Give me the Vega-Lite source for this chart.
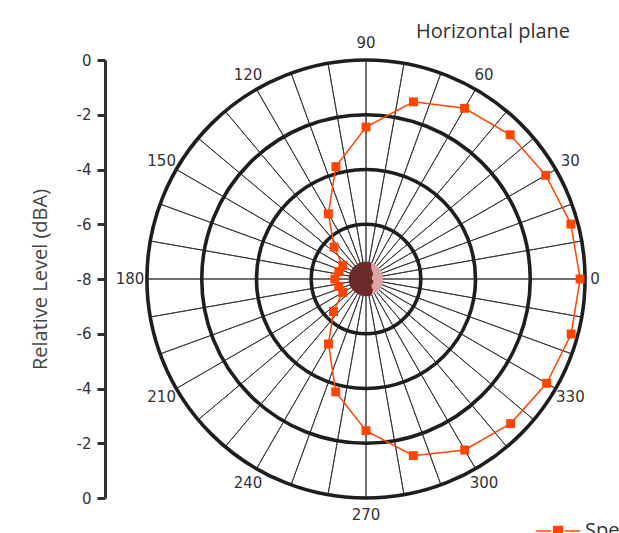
{
  "$schema": "https://vega.github.io/schema/vega-lite/v6.json",
  "width": 480,
  "height": 438,
  "autosize": {"type": "none"},
  "padding": {"left": 126, "top": 60, "right": 13, "bottom": 35},
  "background": "white",
  "config": {"view": {"stroke": null}, "font": "DejaVu Sans"},
  "title": {"text": "Horizontal plane", "font": "Open Sans", "fontSize": 20, "fontWeight": "normal", "color": "#333", "anchor": "start", "frame": "group", "dx": 290, "offset": 0, "dy": 6},
  "datasets": {
    "pattern": [
      {"angle": 0, "level": -0.18},
      {"angle": 15, "level": -0.25},
      {"angle": 30, "level": -0.42},
      {"angle": 45, "level": -0.55},
      {"angle": 60, "level": -0.8},
      {"angle": 75, "level": -1.3},
      {"angle": 90, "level": -2.45},
      {"angle": 105, "level": -3.75},
      {"angle": 120, "level": -5.25},
      {"angle": 135, "level": -6.35},
      {"angle": 150, "level": -7.02},
      {"angle": 165, "level": -6.97},
      {"angle": 180, "level": -6.86},
      {"angle": 195, "level": -6.97},
      {"angle": 210, "level": -7.02},
      {"angle": 225, "level": -6.32},
      {"angle": 240, "level": -5.26},
      {"angle": 255, "level": -3.73},
      {"angle": 270, "level": -2.46},
      {"angle": 285, "level": -1.32},
      {"angle": 300, "level": -0.79},
      {"angle": 315, "level": -0.53},
      {"angle": 330, "level": -0.38},
      {"angle": 345, "level": -0.24}
    ],
    "rings": [{"r": 2}, {"r": 4}, {"r": 6}, {"r": 8}],
    "spokes": [
      {"a": 0}, {"a": 10}, {"a": 20}, {"a": 30}, {"a": 40}, {"a": 50}, {"a": 60}, {"a": 70}, {"a": 80},
      {"a": 90}, {"a": 100}, {"a": 110}, {"a": 120}, {"a": 130}, {"a": 140}, {"a": 150}, {"a": 160}, {"a": 170},
      {"a": 180}, {"a": 190}, {"a": 200}, {"a": 210}, {"a": 220}, {"a": 230}, {"a": 240}, {"a": 250}, {"a": 260},
      {"a": 270}, {"a": 280}, {"a": 290}, {"a": 300}, {"a": 310}, {"a": 320}, {"a": 330}, {"a": 340}, {"a": 350}
    ],
    "labels": [
      {"angle": 0, "label": "0"}, {"angle": 30, "label": "30"}, {"angle": 60, "label": "60"},
      {"angle": 90, "label": "90"}, {"angle": 120, "label": "120"}, {"angle": 150, "label": "150"},
      {"angle": 180, "label": "180"}, {"angle": 210, "label": "210"}, {"angle": 240, "label": "240"},
      {"angle": 270, "label": "270"}, {"angle": 300, "label": "300"}, {"angle": 330, "label": "330"}
    ]
  },
  "layer": [
    {
      "data": {"name": "spokes"},
      "mark": {"type": "arc", "filled": false, "stroke": "#333", "strokeWidth": 0.9},
      "encoding": {
        "theta": {"aggregate": "count", "type": "quantitative"},
        "detail": {"field": "a", "type": "ordinal"},
        "radius": {"datum": 8, "type": "quantitative", "scale": {"type": "linear", "domain": [0, 8], "range": [0, 219], "zero": true}}
      }
    },
    {
      "data": {"name": "rings"},
      "mark": {"type": "arc", "filled": false, "stroke": "#1e1e1e", "strokeWidth": 3.6, "theta": 0, "theta2": 6.2832},
      "encoding": {
        "radius": {"field": "r", "type": "quantitative", "stack": false, "scale": {"type": "linear", "domain": [0, 8], "range": [0, 219], "zero": true}}
      }
    },
    {
      "data": {"name": "labels"},
      "mark": {"type": "text", "font": "DejaVu Sans", "fontSize": 15, "color": "#333", "align": "center", "baseline": "middle", "dx": {"expr": "datum.angle == 0 ? -7 : 0"}},
      "encoding": {
        "theta": {"field": "angle", "type": "quantitative", "stack": false, "scale": {"domain": [0, 360], "range": [1.5708, -4.7124]}},
        "radius": {"datum": 8.62, "type": "quantitative", "scale": {"type": "linear", "domain": [0, 8], "range": [0, 219], "zero": true}},
        "text": {"field": "label"}
      }
    },
    {
      "data": {"name": "pattern"},
      "transform": [
        {"calculate": "(datum.level + 8) * cos(datum.angle * PI / 180)", "as": "px"},
        {"calculate": "(datum.level + 8) * sin(datum.angle * PI / 180)", "as": "py"}
      ],
      "mark": {"type": "line", "interpolate": "linear-closed", "strokeWidth": 1.5},
      "encoding": {
        "x": {"field": "px", "type": "quantitative", "scale": {"domain": [-8.767, 8.767], "nice": false, "zero": false}, "axis": null},
        "y": {"field": "py", "type": "quantitative", "scale": {"domain": [-8, 8], "nice": false, "zero": false},
          "axis": {"title": "Relative Level (dBA)", "values": [-8, -6, -4, -2, 0, 2, 4, 6, 8], "labelExpr": "'' + (abs(datum.value) - 8)", "offset": 21, "grid": false,
            "domainColor": "#333", "domainWidth": 3, "tickColor": "#333", "tickWidth": 3, "tickSize": 8,
            "labelFont": "DejaVu Sans", "labelFontSize": 15, "labelColor": "#333", "labelPadding": 6,
            "titleFont": "Open Sans", "titleFontSize": 20, "titleFontWeight": "normal", "titleColor": "#444", "titlePadding": 26}},
        "order": {"field": "angle", "type": "quantitative"},
        "color": {"datum": "Speaker", "type": "nominal", "scale": {"range": ["#ff4500"]},
          "legend": {"title": null, "orient": "none", "legendX": 409, "legendY": 448, "padding": 0,
            "symbolType": "M-1,0H-0.3M0.3,0H1M-0.2,-0.2H0.2V0.2H-0.2Z", "symbolSize": 1936, "symbolStrokeWidth": 1.5,
            "symbolFillColor": "#ff4500", "symbolStrokeColor": "#ff4500",
            "labelFont": "Open Sans", "labelFontSize": 20, "labelColor": "#333", "labelOffset": 4}}
      }
    },
    {
      "data": {"name": "pattern"},
      "transform": [
        {"calculate": "(datum.level + 8) * cos(datum.angle * PI / 180)", "as": "px"},
        {"calculate": "(datum.level + 8) * sin(datum.angle * PI / 180)", "as": "py"}
      ],
      "mark": {"type": "point", "shape": "square", "filled": true, "size": 80, "opacity": 1},
      "encoding": {
        "x": {"field": "px", "type": "quantitative"},
        "y": {"field": "py", "type": "quantitative"},
        "color": {"datum": "Speaker", "type": "nominal"}
      }
    },
    {
      "data": {"values": [{"part": "face"}]},
      "mark": {"type": "point", "shape": "circle", "filled": true, "color": "#dca4a4", "size": 1156, "opacity": 1},
      "encoding": {"x": {"datum": 0, "type": "quantitative"}, "y": {"datum": 0, "type": "quantitative"}}
    },
    {
      "data": {"values": [{"part": "hair"}]},
      "mark": {"type": "point", "shape": "M0.3,-0.954A1,1 0 1,0 0.3,0.954L0.4,0.62L0.3,0.4L0.44,0.15L0.32,-0.05L0.42,-0.3L0.3,-0.6Z", "filled": true, "color": "#6b2b2b", "size": 1190, "opacity": 1},
      "encoding": {"x": {"datum": 0, "type": "quantitative"}, "y": {"datum": 0, "type": "quantitative"}}
    }
  ],
  "resolve": {"scale": {"theta": "independent", "radius": "independent"}}
}
